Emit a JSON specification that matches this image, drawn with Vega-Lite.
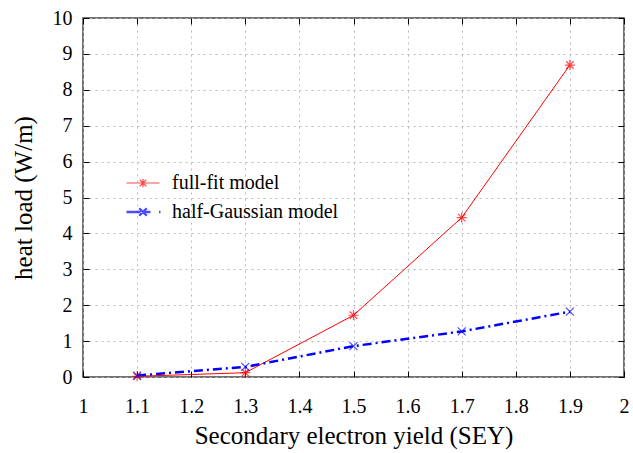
{
  "$schema": "https://vega.github.io/schema/vega-lite/v6.json",
  "width": 541,
  "height": 359,
  "autosize": {"type": "none"},
  "padding": {"left": 83, "top": 18, "right": 9, "bottom": 76},
  "background": "white",
  "config": {
    "font": "Liberation Serif",
    "view": {"stroke": "#444444", "strokeWidth": 1.5},
    "axis": {
      "labelFont": "Liberation Serif",
      "titleFont": "Liberation Serif",
      "labelFontSize": 20,
      "titleFontSize": 25,
      "titleFontWeight": "normal",
      "labelColor": "#000000",
      "titleColor": "#000000",
      "domain": false,
      "tickColor": "#000000",
      "tickSize": -6,
      "tickWidth": 1,
      "gridColor": "#bbbbbb",
      "gridDash": [2, 4],
      "gridWidth": 1
    }
  },
  "data": {
    "values": [
      {"sey": 1.1, "load": 0.02, "series": "full-fit model"},
      {"sey": 1.3, "load": 0.12, "series": "full-fit model"},
      {"sey": 1.5, "load": 1.72, "series": "full-fit model"},
      {"sey": 1.7, "load": 4.44, "series": "full-fit model"},
      {"sey": 1.9, "load": 8.69, "series": "full-fit model"},
      {"sey": 1.1, "load": 0.04, "series": "half-Gaussian model"},
      {"sey": 1.3, "load": 0.28, "series": "half-Gaussian model"},
      {"sey": 1.5, "load": 0.86, "series": "half-Gaussian model"},
      {"sey": 1.7, "load": 1.27, "series": "half-Gaussian model"},
      {"sey": 1.9, "load": 1.82, "series": "half-Gaussian model"}
    ]
  },
  "layer": [
    {
      "transform": [{"filter": "datum.series === 'full-fit model'"}],
      "mark": {"type": "line", "color": "#ff0000", "strokeWidth": 1},
      "encoding": {
        "x": {
          "field": "sey", "type": "quantitative",
          "scale": {"domain": [1, 2], "nice": false, "zero": false},
          "axis": {"title": "Secondary electron yield (SEY)", "values": [1, 1.1, 1.2, 1.3, 1.4, 1.5, 1.6, 1.7, 1.8, 1.9, 2], "format": "~g", "labelPadding": 25, "titlePadding": 7, "labelFlush": false}
        },
        "y": {
          "field": "load", "type": "quantitative",
          "scale": {"domain": [0, 10], "nice": false},
          "axis": {"title": "heat load (W/m)", "values": [0, 1, 2, 3, 4, 5, 6, 7, 8, 9, 10], "labelPadding": 17, "titlePadding": 16, "labelFlush": false}
        }
      }
    },
    {
      "transform": [{"filter": "datum.series === 'half-Gaussian model'"}],
      "mark": {"type": "line", "color": "#0000ff", "strokeWidth": 2.5, "strokeDash": [9, 4, 2, 4]},
      "encoding": {
        "x": {"field": "sey", "type": "quantitative", "axis": null},
        "y": {"field": "load", "type": "quantitative", "axis": null}
      }
    },
    {
      "transform": [{"filter": "datum.series === 'full-fit model'"}],
      "mark": {"type": "point", "filled": false, "size": 100, "strokeWidth": 1.2, "color": "#ff0000", "shape": "M-1,0H1M0,-1V1M-0.75,-0.75L0.75,0.75M-0.75,0.75L0.75,-0.75"},
      "encoding": {
        "x": {
          "field": "sey", "type": "quantitative",
          "axis": {"orient": "top", "title": null, "labels": false, "grid": false, "values": [1, 1.1, 1.2, 1.3, 1.4, 1.5, 1.6, 1.7, 1.8, 1.9, 2]}
        },
        "y": {
          "field": "load", "type": "quantitative",
          "axis": {"orient": "right", "title": null, "labels": false, "grid": false, "values": [0, 1, 2, 3, 4, 5, 6, 7, 8, 9, 10]}
        }
      }
    },
    {
      "transform": [{"filter": "datum.series === 'half-Gaussian model'"}],
      "mark": {"type": "point", "filled": false, "size": 100, "strokeWidth": 1.2, "color": "#0000ff", "shape": "M-0.8,-0.8L0.8,0.8M-0.8,0.8L0.8,-0.8"},
      "encoding": {
        "x": {"field": "sey", "type": "quantitative", "axis": null},
        "y": {"field": "load", "type": "quantitative", "axis": null}
      }
    },
    {
      "transform": [{"filter": "false"}],
      "mark": {"type": "point", "filled": false, "size": 100},
      "encoding": {
        "x": {"field": "sey", "type": "quantitative", "axis": null},
        "y": {"field": "load", "type": "quantitative", "axis": null},
        "color": {
          "field": "series", "type": "nominal",
          "scale": {"domain": ["full-fit model", "half-Gaussian model"], "range": ["#ff0000", "#0000ff"]},
          "legend": {
            "title": null,
            "orient": "none",
            "legendX": 50,
            "legendY": 155,
            "padding": 0,
            "labelFont": "Liberation Serif",
            "labelFontSize": 20,
            "labelColor": "#000000",
            "labelOffset": 19,
            "labelLimit": 400,
            "rowPadding": 9,
            "symbolSize": 100,
            "symbolStrokeWidth": 1.5,
            "symbolFillColor": "transparent"
          }
        },
        "shape": {
          "field": "series", "type": "nominal",
          "scale": {"domain": ["full-fit model", "half-Gaussian model"], "range": ["M-3.3,0H3.3M-0.8,0H0.8M0,-0.85V0.85M-0.65,-0.65L0.65,0.65M-0.65,0.65L0.65,-0.65", "M-3.3,0H-0.5M0.3,0H1.5M3.2,0H3.5M-0.75,-0.75L0.75,0.75M-0.75,0.75L0.75,-0.75"]},
          "legend": null
        },
        "strokeWidth": {
          "field": "series", "type": "nominal",
          "scale": {"domain": ["full-fit model", "half-Gaussian model"], "range": [1.2, 2.3]},
          "legend": null
        }
      }
    }
  ],
  "resolve": {"axis": {"x": "independent", "y": "independent"}}
}
